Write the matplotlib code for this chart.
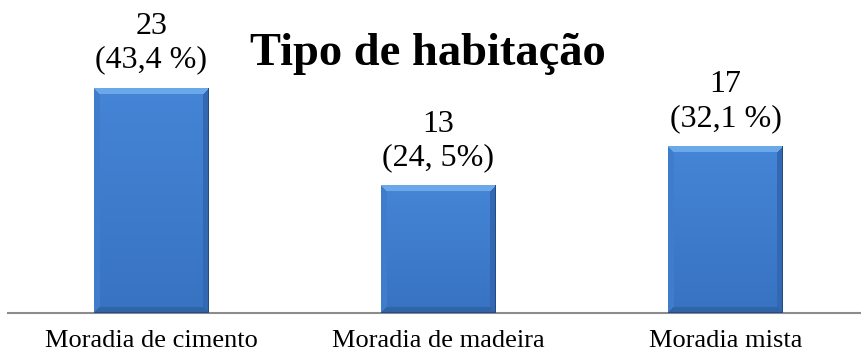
import numpy as np
import matplotlib
matplotlib.use("Agg")
import matplotlib.pyplot as plt

categories = ["Moradia de cimento", "Moradia de madeira", "Moradia mista"]
counts = [23, 13, 17]
value_labels = ["23\n(43,4 %)", "13\n(24, 5%)", "17\n(32,1 %)"]
title = "Tipo de habitação"

plt.rcParams["font.family"] = ["Liberation Serif", "DejaVu Serif"]

fig = plt.figure(figsize=(8.61, 3.56), dpi=100)
ax = fig.add_axes([8 / 861, 43 / 356, 1.0, 313 / 356])

x = np.arange(len(categories))
bars = ax.bar(x, counts, width=0.4, color="#3d7cc9", zorder=2)
ax.set_xlim(-0.5, 2.5)
ax.set_ylim(0, 32)

fig.canvas.draw()


def bevel_image(w, h, s=6):
    """RGB image of a bevelled bar face, w x h pixels."""
    ii, jj = np.mgrid[0:h, 0:w]
    dt = ii
    db = h - 1 - ii
    dl = jj
    dr = w - 1 - jj
    v = ii / max(h - 1, 1)
    top = np.array([0.27, 0.52, 0.84])
    bot = np.array([0.22, 0.45, 0.76])
    img = top[None, None, :] * (1 - v[..., None]) + bot[None, None, :] * v[..., None]

    light = np.array([0.42, 0.66, 0.92])
    side_l = np.array([0.25, 0.49, 0.80])
    side_r = np.array([0.20, 0.41, 0.70])
    bottom = np.array([0.19, 0.39, 0.66])

    m_top = (dt < s) & (dt <= dl) & (dt <= dr)
    m_bot = (db < s) & (db <= dl) & (db <= dr) & ~m_top
    m_l = (dl < s) & ~m_top & ~m_bot & (dl <= dr)
    m_r = (dr < s) & ~m_top & ~m_bot & ~m_l
    img[m_top] = light
    img[m_l] = side_l
    img[m_r] = side_r
    img[m_bot] = bottom
    # thin dark outline on the right and bottom
    edge = (dr < 1) | (db < 1)
    img[edge] = np.array([0.14, 0.30, 0.52])
    return img


for b in bars:
    bb = b.get_window_extent()
    w, h = max(int(round(bb.width)), 2), max(int(round(bb.height)), 2)
    ax.imshow(bevel_image(w, h), extent=(b.get_x(), b.get_x() + b.get_width(), 0, b.get_height()),
              aspect="auto", zorder=3, interpolation="bilinear")

ax.set_xlim(-0.5, 2.5)
ax.set_ylim(0, 32)

for xi, val, lab in zip(x, counts, value_labels):
    ax.annotate(lab, (xi, val), xytext=(0, 10), textcoords="offset points",
                ha="center", va="bottom", fontsize=23, linespacing=1.2, zorder=4)

ax.set_xticks(x)
ax.set_xticklabels(categories, fontsize=19)
ax.tick_params(axis="x", length=0, pad=12)
ax.set_yticks([])
for side in ("top", "left", "right"):
    ax.spines[side].set_visible(False)
ax.spines["bottom"].set_color("#8c8c8c")
ax.spines["bottom"].set_linewidth(1.5)
ax.spines["bottom"].set_zorder(1)
ax.patch.set_alpha(0)

fig.text(428 / 861, 1 - 65 / 356, title, ha="center", va="baseline",
         fontsize=33.5, fontweight="bold")

fig.savefig("out.png", dpi=100)
